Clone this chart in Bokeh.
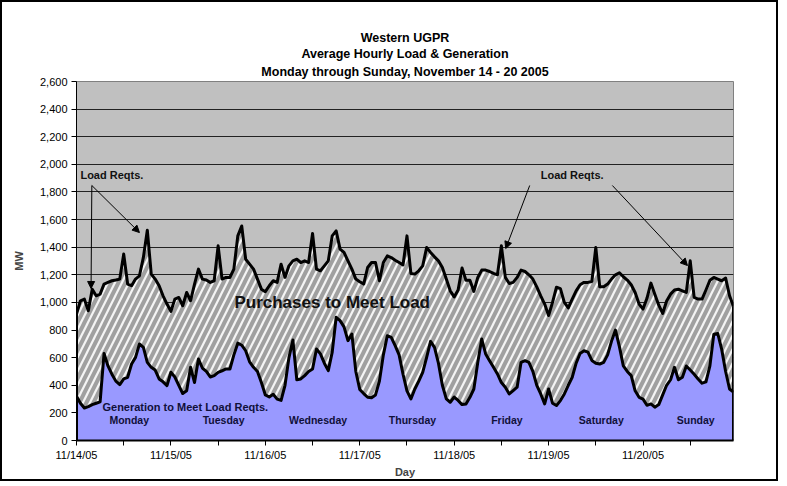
from bokeh.plotting import figure
from bokeh.models import (ColumnDataSource, FixedTicker, NumeralTickFormatter, Title,
                          Label, Arrow, NormalHead, Range1d)
from bokeh.embed import file_html
from bokeh.resources import INLINE
from bokeh.core.properties import value

FONT = "Liberation Sans"

title_lines = ["Western UGPR", "Average Hourly Load & Generation",
               "Monday through Sunday, November 14 - 20 2005"]
day_ticks = ["11/14/05", "11/15/05", "11/16/05", "11/17/05", "11/18/05", "11/19/05", "11/20/05"]
day_names = ["Monday", "Tuesday", "Wednesday", "Thursday", "Friday", "Saturday", "Sunday"]

# Hourly load requirements (MW), one list per day (hour 0..23)
load_mon = [916, 1012, 1024, 940, 1096, 1048, 1060, 1133, 1145, 1157, 1162, 1169, 1350, 1133, 1121, 1169, 1193, 1326, 1523, 1205, 1169, 1121, 1048, 988]
load_tue = [935, 1024, 1036, 976, 1072, 1012, 1133, 1241, 1169, 1162, 1145, 1157, 1410, 1169, 1181, 1181, 1241, 1482, 1554, 1313, 1277, 1241, 1169, 1096]
load_wed = [1078, 1121, 1157, 1145, 1277, 1181, 1265, 1301, 1313, 1289, 1301, 1289, 1499, 1241, 1229, 1265, 1301, 1482, 1518, 1386, 1362, 1301, 1241, 1169]
load_thu = [1150, 1133, 1253, 1289, 1289, 1157, 1289, 1337, 1325, 1306, 1289, 1272, 1482, 1210, 1205, 1229, 1265, 1398, 1362, 1330, 1301, 1253, 1169, 1084]
load_fri = [1040, 1090, 1250, 1160, 1160, 1080, 1181, 1234, 1234, 1224, 1210, 1200, 1410, 1181, 1137, 1145, 1181, 1234, 1224, 1200, 1169, 1113, 1048, 988]
load_sat = [905, 1000, 1110, 1100, 1000, 960, 1024, 1084, 1128, 1145, 1145, 1152, 1398, 1113, 1113, 1133, 1169, 1200, 1215, 1186, 1162, 1128, 1072, 988]
load_sun = [952, 1030, 1140, 1060, 980, 920, 1010, 1060, 1090, 1096, 1084, 1072, 1301, 1036, 1024, 1024, 1090, 1160, 1181, 1169, 1157, 1176, 1048, 970]

# Hourly generation to meet load (MW)
gen_mon = [320, 270, 235, 245, 260, 270, 280, 630, 540, 480, 430, 405, 446, 458, 554, 602, 699, 675, 566, 530, 510, 446, 425, 398]
gen_tue = [494, 460, 400, 340, 360, 530, 420, 590, 525, 500, 460, 470, 494, 505, 518, 518, 620, 705, 690, 650, 570, 530, 500, 420]
gen_wed = [330, 315, 335, 300, 290, 400, 600, 728, 440, 446, 470, 500, 518, 663, 627, 560, 506, 640, 892, 868, 823, 723, 771, 500]
gen_thu = [370, 340, 313, 310, 330, 430, 620, 759, 747, 687, 620, 480, 360, 301, 373, 430, 494, 602, 718, 675, 560, 400, 301, 277]
gen_fri = [315, 290, 260, 265, 313, 373, 566, 735, 627, 578, 530, 482, 420, 386, 337, 361, 386, 566, 578, 566, 500, 400, 337, 265]
gen_sat = [373, 270, 253, 289, 337, 400, 458, 560, 630, 650, 640, 580, 560, 554, 566, 620, 720, 800, 680, 540, 500, 470, 360, 313]
gen_sun = [300, 255, 265, 241, 260, 330, 400, 440, 530, 440, 458, 540, 510, 480, 446, 415, 425, 540, 770, 775, 660, 500, 373, 350]

load = load_mon + load_tue + load_wed + load_thu + load_fri + load_sat + load_sun
gen = gen_mon + gen_tue + gen_wed + gen_thu + gen_fri + gen_sat + gen_sun
hours = list(range(len(load)))

src = ColumnDataSource(dict(h=hours, load=load, gen=gen))

p = figure(width=778, height=481, output_backend="svg", toolbar_location=None,
           x_range=Range1d(0, hours[-1]), y_range=Range1d(0, 2600),
           min_border_left=74, min_border_right=47, min_border_top=79, min_border_bottom=43,
           background_fill_color="#C0C0C0", border_fill_color="white",
           outline_line_color="#808080")
p.styles = {"border": "2px solid black"}

# Title lines (added bottom-up)
for t, so in zip(reversed(title_lines), [5, 0, 0]):
    p.add_layout(Title(text=t, align="center", text_font=FONT, text_font_size="12.5px",
                       text_font_style="bold", standoff=so, text_color="black"), "above")

# Areas
p.varea(x="h", y1=0, y2="gen", source=src, fill_color="#9999FF")
p.varea(x="h", y1="gen", y2="load", source=src, fill_color="#F4F4F4",
        hatch_pattern="/", hatch_color="#A0A0A0", hatch_weight=4, hatch_scale=14)
p.line(x="h", y="load", source=src, line_color="black", line_width=3, line_join="round")
p.line(x="h", y="gen", source=src, line_color="black", line_width=3, line_join="round")
p.segment(x0=[hours[0], hours[-1]], y0=[0, 0], x1=[hours[0], hours[-1]],
          y1=[load[0], load[-1]], line_color="black", line_width=3)

# Axes
p.xaxis.ticker = FixedTicker(ticks=[24 * i for i in range(7)],
                             minor_ticks=[24 * i + 12 for i in range(7)])
p.xaxis.major_label_overrides = {24 * i: d for i, d in enumerate(day_ticks)}
p.yaxis.ticker = FixedTicker(ticks=list(range(0, 2601, 200)))
p.yaxis.formatter = NumeralTickFormatter(format="0,0")
for ax in (p.xaxis[0], p.yaxis[0]):
    ax.major_label_text_font = FONT
    ax.major_label_text_font_size = "11px"
    ax.major_label_text_color = "black"
    ax.axis_label_text_font = FONT
    ax.axis_label_text_font_style = "bold"
    ax.axis_label_text_font_size = "11px"
    ax.axis_line_color = "black"
    ax.major_tick_line_color = "black"
    ax.minor_tick_line_color = "black"
    ax.major_tick_in = 0
    ax.major_tick_out = 5
    ax.minor_tick_in = 0
    ax.minor_tick_out = 5
p.yaxis.minor_tick_line_color = None
p.xaxis.axis_line_width = 2
p.xaxis.axis_label = "Day"
p.yaxis.axis_label = "MW"
p.xaxis.major_label_standoff = 3
p.xaxis.axis_label_standoff = 2
p.yaxis.major_label_standoff = 4
p.yaxis.axis_label_standoff = 12

p.xgrid.visible = False
p.ygrid.grid_line_color = "#222222"
p.ygrid.grid_line_width = 1

# Text annotations
p.add_layout(Label(x=65, y=1000, text="Purchases to Meet Load", text_align="center",
                   text_baseline="middle", text_font=FONT, text_font_size="17px",
                   text_font_style="bold", text_color="#111111"))
p.add_layout(Label(x=6.6, y=239, text="Generation to Meet Load Reqts.", text_align="left",
                   text_baseline="middle", text_font=FONT, text_font_size="11px",
                   text_font_style="bold", text_color="#10103a"))
day_src = ColumnDataSource(dict(x=[24 * i + 13.4 for i in range(7)], y=[145] * 7, t=day_names))
p.text(x="x", y="y", text="t", source=day_src, text_align="center", text_baseline="middle",
       text_font=value(FONT), text_font_size="10.5px", text_font_style="bold",
       text_color="#10103a")

p.add_layout(Label(x=1.0, y=1926, text="Load Reqts.", text_align="left", text_baseline="middle",
                   text_font=FONT, text_font_size="11px", text_font_style="bold",
                   text_color="#111111"))
p.add_layout(Label(x=126, y=1926, text="Load Reqts.", text_align="center", text_baseline="middle",
                   text_font=FONT, text_font_size="11px", text_font_style="bold",
                   text_color="#111111"))

arrows = [((3.9, 1847), (3.7, 1101)), ((3.9, 1847), (16.0, 1506)),
          ((115.2, 1847), (109.1, 1390)), ((136.2, 1847), (155.3, 1267))]
for (xs, ys), (xe, ye) in arrows:
    p.add_layout(Arrow(x_start=xs, y_start=ys, x_end=xe, y_end=ye, line_color="black",
                       line_width=1,
                       end=NormalHead(size=7, fill_color="black", line_color="black")))

open("out.html", "w").write(file_html(p, INLINE))
